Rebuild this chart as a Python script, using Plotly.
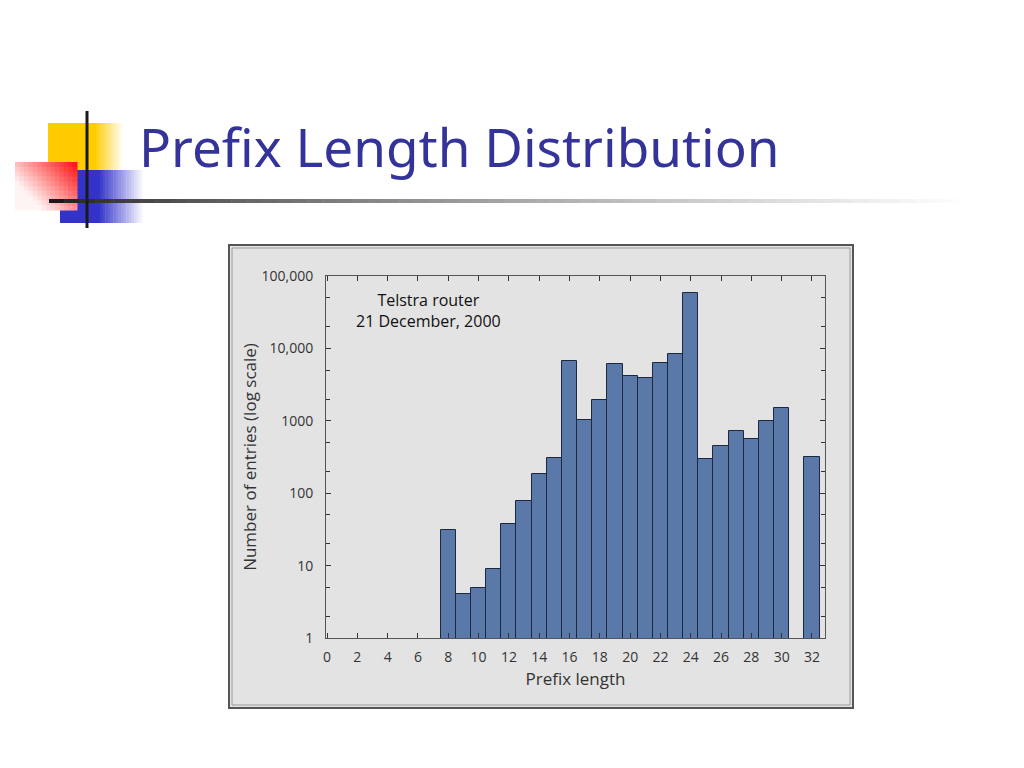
import plotly.graph_objects as go

# ---- data ----
prefix_lengths = list(range(0, 33))
entries = [None, None, None, None, None, None, None, None,
           31, 4.1, 4.9, 9.0, 38, 78, 185, 309,
           6640, 1010, 1940, 6100, 4200, 3860, 6300, 8400,
           59000, 299, 443, 722, 553, 1000, 1500, None, 318]
x_tick_vals = list(range(0, 33, 2))
y_tick_vals = [1, 10, 100, 1000, 10000, 100000]
y_tick_text = ["1", "10", "100", "1000", "10,000", "100,000"]
y_minor_vals = [2, 5, 20, 50, 200, 500, 2000, 5000, 20000, 50000]

# page has an 8px body margin; figure sized to fit the viewport
OFF = 8
W, H = 1016, 760
def X(px):
    return (px - OFF) / W
def Y(py):
    return 1 - (py - OFF) / H

FONT = "Open Sans"
TXT = "#333333"

fig = go.Figure()
fig.add_trace(go.Bar(
    x=prefix_lengths, y=entries, width=1.0,
    marker=dict(color="#5a79a9", line=dict(color="#1b2840", width=1)),
    hoverinfo="x+y",
))

shapes = []

def rect(x0, y0, x1, y1, color, opacity=1.0, line_color=None, line_width=0, layer="above"):
    shapes.append(dict(type="rect", xref="paper", yref="paper",
                       x0=X(x0), x1=X(x1), y0=Y(y0), y1=Y(y1),
                       fillcolor=color, opacity=opacity, layer=layer,
                       line=dict(width=line_width, color=line_color or color)))

def mix(c1, c2, t):
    return "rgb(%d,%d,%d)" % tuple(round(a + (b - a) * t) for a, b in zip(c1, c2))

WHITE = (255, 255, 255)
# chart frame (behind plot)
rect(229, 245, 853, 708, "#e3e3e3", line_color="#555555", line_width=2, layer="below")
rect(232, 248, 850, 705, "rgba(0,0,0,0)", line_color="#9a9a9a", line_width=1, layer="below")

# --- decorations ---
YEL = (255, 204, 0)
rect(48, 123, 96, 200, mix(YEL, WHITE, 0))
n = 12
for i in range(n):
    xa = 96 + i * 26 / n
    rect(xa, 123, xa + 26 / n + 0.5, 200, mix(YEL, WHITE, (i + 1) / (n + 1)))
BLU = (51, 51, 204)
rect(60, 170, 100, 223, mix(BLU, WHITE, 0))
n = 16
for i in range(n):
    xa = 100 + i * 42 / n
    rect(xa, 170, xa + 42 / n + 0.5, 223, mix(BLU, WHITE, (i + 1) / (n + 1)))
RED = (255, 25, 25)
nx, ny = 14, 10
for i in range(nx):
    for j in range(ny):
        tx = i / (nx - 1)
        ty = j / (ny - 1)
        t = min(1.0, (1 - tx) * 0.75 + ty * 0.55)
        xa = 15 + i * 62 / nx
        ya = 162 + j * 48 / ny
        rect(xa, ya, xa + 62 / nx + 0.5, ya + 48 / ny + 0.5, mix(RED, WHITE, t * 0.95))
DARK = (25, 25, 25)
segs = 60
for i in range(segs):
    xa = 49 + i * (960 - 49) / segs
    t = (i / segs) ** 0.7
    rect(xa, 199, xa + (960 - 49) / segs + 0.5, 203, mix(DARK, WHITE, t))
rect(85.5, 111, 88.5, 228, "#1a1a1a")

axis_common = dict(showline=True, linecolor="#555555", linewidth=1, mirror="allticks",
                   ticks="inside", tickcolor="#333333", ticklen=5, tickwidth=1,
                   showgrid=False, zeroline=False, automargin=False,
                   tickfont=dict(family=FONT, size=14, color=TXT))

fig.update_layout(
    width=W, height=H, autosize=False,
    margin=dict(l=0, r=0, t=0, b=0, pad=0),
    paper_bgcolor="white",
    plot_bgcolor="#e8e8f1",
    showlegend=False,
    bargap=0,
    shapes=shapes,
    xaxis=dict(domain=[X(326), X(825)], range=[-0.07, 32.86],
               tickvals=x_tick_vals, ticktext=[str(v) for v in x_tick_vals],
               ticklabelstandoff=6,
               title=dict(text="Prefix length", font=dict(family=FONT, size=17, color=TXT), standoff=8),
               **axis_common),
    yaxis=dict(domain=[Y(638), Y(276)], type="log", range=[0, 5],
               tickvals=y_tick_vals, ticktext=y_tick_text,
               ticklabelstandoff=9,
               minor=dict(tickvals=y_minor_vals, ticks="inside", ticklen=4, tickcolor="#333333"),
               title=dict(text="Number of entries (log scale)", font=dict(family=FONT, size=17, color=TXT), standoff=0),
               **axis_common),
    annotations=[
        dict(text="Prefix Length Distribution", xref="paper", yref="paper",
             x=X(137), y=Y(147), xanchor="left", yanchor="middle", showarrow=False,
             font=dict(family="Noto Sans", size=53, color="#333399")),
        dict(text="Telstra router<br>21 December, 2000", xref="paper", yref="paper",
             x=X(428), y=Y(310), xanchor="center", yanchor="middle", showarrow=False,
             font=dict(family=FONT, size=16, color="#111111")),
    ],
)

fig.write_html("out.html")
